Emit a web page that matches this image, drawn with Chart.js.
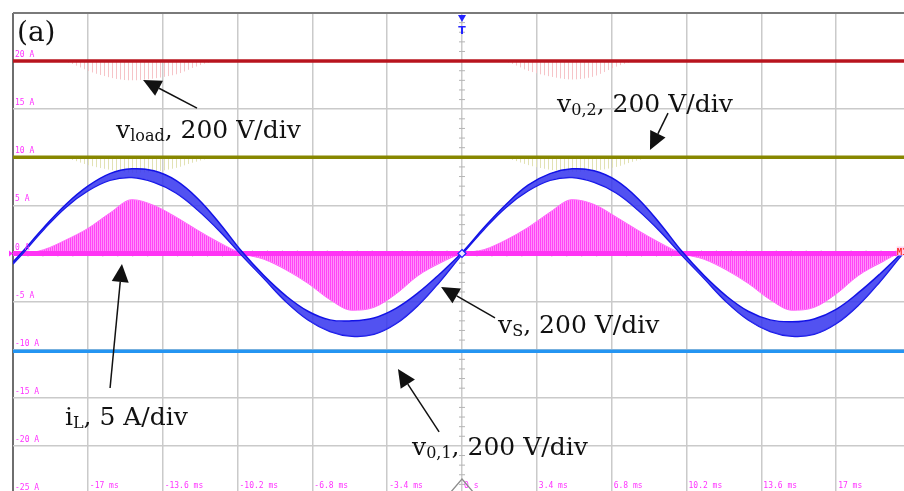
<!DOCTYPE html>
<html>
<head>
<meta charset="utf-8">
<style>
  html, body { margin: 0; padding: 0; background: #fff; overflow: hidden; }
  #wrap { width: 904px; height: 491px; overflow: hidden; }
  canvas { display: block; }
</style>
</head>
<body>
<div id="wrap"><canvas id="scope" width="914" height="497"></canvas></div>
<script src="https://cdn.jsdelivr.net/npm/chart.js@4.4.1/dist/chart.umd.min.js"></script>
<script>
// time base (ms) and the traces (vertical unit = scope "A" grid)
const tMs = [-20.4, -20, -19, -18, -17, -16, -15, -14, -13, -12, -11, -10, -9, -8, -7, -6, -5, -4, -3, -2, -1, 0,
  1, 2, 3, 4, 5, 6, 7, 8, 9, 10, 11, 12, 13, 14, 15, 16, 17, 18, 19, 20, 20.4];

// v_s : blue band, upper and lower edge
const vsUpper = [-0.9, 0.1, 2.7, 5.1, 7.0, 8.3, 8.8, 8.6, 7.6, 5.7, 3.1, 0.2, -2.3, -4.4, -6.0, -6.9, -7.0, -6.7, -5.7, -4.1, -2.1, 0.1,
  2.7, 5.1, 7.1, 8.3, 8.8, 8.6, 7.6, 5.7, 3.1, 0.2, -2.3, -4.4, -6.0, -6.9, -7.1, -6.8, -5.8, -4.1, -2.1, 0.1, 1.1];
const vsLower = [-1.1, -0.1, 2.5, 4.8, 6.5, 7.6, 7.9, 7.4, 6.3, 4.5, 2.3, -0.2, -2.6, -5.0, -6.9, -8.1, -8.6, -8.4, -7.3, -5.4, -2.9, -0.1,
  2.5, 4.8, 6.5, 7.6, 7.9, 7.4, 6.3, 4.5, 2.3, -0.2, -2.6, -5.0, -6.9, -8.1, -8.6, -8.4, -7.3, -5.4, -2.9, -0.1, 0.9];

// i_L : envelope of the switching current (pink)
const iLEnvelope = [0, 0, 0.4, 1.4, 2.6, 4.2, 5.6, 5.0, 3.8, 2.4, 1.1, 0, -0.6, -1.7, -3.1, -4.8, -5.9, -5.6, -4.2, -2.3, -1.0, 0,
  0.4, 1.4, 2.7, 4.3, 5.6, 5.1, 3.8, 2.4, 1.1, 0, -0.6, -1.7, -3.1, -4.8, -5.9, -5.6, -4.2, -2.3, -1.0, 0, 0];
const iLZeroT = [-20.4, 19.8];
const iLZero = [0, 0];

// flat dc traces
const flatT = [-20.4, 20.4];
const vLoad = [20.0, 20.0];
const vO2 = [10.0, 10.0];
const vO1 = [-10.15, -10.15];

// faint switching ripple hanging under v_load and v_0,2
const loadRipple = [20, 20, 20, 19.9, 19.0, 18.3, 18.0, 18.2, 18.6, 19.5, 20, 20, 20, 20, 20, 20, 20, 20, 20, 20, 20, 20,
  20, 19.9, 19.0, 18.4, 18.1, 18.4, 19.4, 20, 20, 20, 20, 20, 20, 20, 20, 20, 20, 20, 20, 20, 20];
const o2Ripple = [10, 10, 10, 9.9, 9.2, 8.7, 8.4, 8.5, 8.9, 9.6, 10, 10, 10, 10, 10, 10, 10, 10, 10, 10, 10, 10,
  10, 9.9, 9.2, 8.7, 8.5, 8.6, 9.0, 9.7, 10, 10, 10, 10, 10, 10, 10, 10, 10, 10, 10, 10, 10];

// graticule
const xTicks = [-20.4, -17, -13.6, -10.2, -6.8, -3.4, 0, 3.4, 6.8, 10.2, 13.6, 17, 20.4];
const xTickLabels = ['', '-17 ms', '-13.6 ms', '-10.2 ms', '-6.8 ms', '-3.4 ms', '0 s', '3.4 ms', '6.8 ms', '10.2 ms', '13.6 ms', '17 ms', ''];
const yTicks = [-25, -20, -15, -10, -5, 0, 5, 10, 15, 20, 25];
const yTickLabels = ['-25 A', '-20 A', '-15 A', '-10 A', '-5 A', '0 A', '5 A', '10 A', '15 A', '20 A', ''];

// annotations, in (ms, A)
const notes = [
  { parts: [['v', 0], ['load', 1], [', 200 V/div', 0]], at: [-15.72, 12.0], from: [-12.04, 15.12], to: [-14.49, 18.04] },
  { parts: [['v', 0], ['0,2', 1], [', 200 V/div', 0]], at: [4.32, 14.7], from: [9.36, 14.6], to: [8.54, 10.76] },
  { parts: [['i', 0], ['L', 1], [', 5 A/div', 0]], at: [-18.04, -17.83], from: [-15.99, -13.98], to: [-15.45, -1.09] },
  { parts: [['v', 0], ['S', 1], [', 200 V/div', 0]], at: [1.64, -8.26], from: [1.5, -6.7], to: [-0.95, -3.48] },
  { parts: [['v', 0], ['0,1', 1], [', 200 V/div', 0]], at: [-2.27, -20.95], from: [-1.04, -18.55], to: [-2.91, -12.01] }
];

const canvas = document.getElementById('scope');
const ctx0 = canvas.getContext('2d');

function stripes(w, on, colOn, colOff) {
  const c = document.createElement('canvas');
  c.width = w; c.height = 4;
  const g = c.getContext('2d');
  if (colOff) { g.fillStyle = colOff; g.fillRect(0, 0, w, 4); }
  g.fillStyle = colOn; g.fillRect(0, 0, on, 4);
  return ctx0.createPattern(c, 'repeat');
}

const pts = (xs, ys) => xs.map((t, i) => ({ x: t, y: ys[i] }));

function richText(ctx, x, y, parts) {
  let cx = x;
  for (const [s, sub] of parts) {
    ctx.font = sub ? '16px "DejaVu Serif"' : '25px "DejaVu Serif"';
    ctx.fillText(s, cx, sub ? y + 3 : y);
    cx += ctx.measureText(s).width;
  }
}

function arrow(ctx, x1, y1, x2, y2) {
  const a = Math.atan2(y2 - y1, x2 - x1), L = 18, W = 8.5;
  const bx = x2 - L * Math.cos(a), by = y2 - L * Math.sin(a);
  ctx.beginPath(); ctx.moveTo(x1, y1); ctx.lineTo(bx, by); ctx.stroke();
  ctx.beginPath();
  ctx.moveTo(x2, y2);
  ctx.lineTo(bx + W * Math.sin(a), by - W * Math.cos(a));
  ctx.lineTo(bx - W * Math.sin(a), by + W * Math.cos(a));
  ctx.closePath(); ctx.fill();
}

const scopeDecor = {
  id: 'scopeDecor',
  beforeDatasetsDraw(chart) {
    const { ctx, scales: { x, y } } = chart;
    const cx = x.getPixelForValue(0), cy = y.getPixelForValue(0);
    ctx.save();
    ctx.strokeStyle = '#b5b5b5';
    ctx.lineWidth = 1;
    for (let v = -25; v <= 25; v++) {
      if (v % 5 === 0) continue;
      const py = y.getPixelForValue(v);
      ctx.beginPath(); ctx.moveTo(cx - 3, py); ctx.lineTo(cx + 3, py); ctx.stroke();
    }
    for (let k = -30; k <= 30; k++) {
      if (k % 5 === 0) continue;
      const px = x.getPixelForValue(k * 0.68);
      ctx.beginPath(); ctx.moveTo(px, cy - 3); ctx.lineTo(px, cy + 3); ctx.stroke();
    }
    ctx.restore();
  },
  afterDraw(chart) {
    const { ctx, chartArea: area, scales: { x, y } } = chart;
    ctx.save();
    // tick labels inside the graticule
    ctx.fillStyle = '#ff33ff';
    ctx.font = '8px "DejaVu Sans Mono"';
    ctx.textBaseline = 'alphabetic';
    yTicks.forEach((v, i) => ctx.fillText(yTickLabels[i], area.left + 2, y.getPixelForValue(v) - 4));
    xTicks.forEach((v, i) => ctx.fillText(xTickLabels[i], x.getPixelForValue(v) + 2, area.top + 475));

    // trigger marker
    const cx = x.getPixelForValue(0), cy = y.getPixelForValue(0);
    ctx.fillStyle = '#2222ff';
    ctx.beginPath();
    ctx.moveTo(cx - 4, area.top + 2); ctx.lineTo(cx + 4, area.top + 2); ctx.lineTo(cx, area.top + 9);
    ctx.closePath(); ctx.fill();
    ctx.font = 'bold 11px "DejaVu Sans"';
    ctx.textAlign = 'center';
    ctx.fillText('T', cx, area.top + 21);
    ctx.textAlign = 'left';

    // zero crossing diamond
    ctx.strokeStyle = '#2222ff';
    ctx.fillStyle = '#e8e8ff';
    ctx.lineWidth = 1.2;
    ctx.beginPath();
    ctx.moveTo(cx, cy - 4); ctx.lineTo(cx + 4, cy); ctx.lineTo(cx, cy + 4); ctx.lineTo(cx - 4, cy);
    ctx.closePath(); ctx.fill(); ctx.stroke();

    // bottom position marker
    ctx.strokeStyle = '#8c8c8c';
    ctx.lineWidth = 1.2;
    ctx.beginPath();
    ctx.moveTo(cx - 12, area.top + 480); ctx.lineTo(cx, area.top + 466); ctx.lineTo(cx + 12, area.top + 480);
    ctx.stroke();

    // left ground marker and M1 tag
    ctx.fillStyle = '#ff33ff';
    ctx.beginPath();
    ctx.moveTo(area.left - 4, cy - 3); ctx.lineTo(area.left, cy); ctx.lineTo(area.left - 4, cy + 3);
    ctx.closePath(); ctx.fill();
    ctx.fillStyle = '#ffd0f0';
    ctx.fillRect(x.getPixelForValue(19.75), cy - 7, 12, 9);
    ctx.fillStyle = '#ff2a2a';
    ctx.font = 'bold 9px "DejaVu Sans Mono"';
    ctx.fillText('M1', x.getPixelForValue(19.75), cy + 1);

    // annotations
    ctx.fillStyle = '#111';
    ctx.strokeStyle = '#111';
    ctx.lineWidth = 1.5;
    ctx.font = '28px "DejaVu Serif"';
    ctx.fillText('(a)', x.getPixelForValue(-20.22), y.getPixelForValue(22.09));
    for (const n of notes) {
      richText(ctx, x.getPixelForValue(n.at[0]), y.getPixelForValue(n.at[1]), n.parts);
      arrow(ctx, x.getPixelForValue(n.from[0]), y.getPixelForValue(n.from[1]),
        x.getPixelForValue(n.to[0]), y.getPixelForValue(n.to[1]));
    }
    ctx.restore();
  }
};

const flat = (data, color, order) => ({
  data, borderColor: color, borderWidth: 3.5, pointRadius: 0, fill: false, order
});

new Chart(canvas, {
  type: 'line',
  data: {
    datasets: [
      { data: pts(tMs, vsUpper), borderColor: '#1212e6', borderWidth: 1.5, pointRadius: 0,
        tension: 0.4, fill: '+1', backgroundColor: 'rgba(52,52,238,0.85)', order: 1 },
      { data: pts(tMs, vsLower), borderColor: '#1212e6', borderWidth: 1.5, pointRadius: 0,
        tension: 0.4, fill: false, order: 1 },
      { data: pts(iLZeroT, iLZero), borderColor: '#ff33f5', borderWidth: 5, pointRadius: 0, fill: false, order: 2 },
      { data: pts(tMs, iLEnvelope), borderColor: '#ff6cfa', borderWidth: 1, pointRadius: 0,
        cubicInterpolationMode: 'monotone', fill: 'origin',
        backgroundColor: stripes(2, 1, '#ff45f6', '#ff90fa'), order: 3 },
      { data: pts(tMs, loadRipple), borderWidth: 0, pointRadius: 0, cubicInterpolationMode: 'monotone',
        fill: { value: 20 }, backgroundColor: stripes(4, 1, '#f6c4c8'), order: 5 },
      { data: pts(tMs, o2Ripple), borderWidth: 0, pointRadius: 0, cubicInterpolationMode: 'monotone',
        fill: { value: 10 }, backgroundColor: stripes(4, 1, '#e2e2b4'), order: 5 },
      flat(pts(flatT, vLoad), '#b8141e', 4),
      flat(pts(flatT, vO2), '#878700', 4),
      flat(pts(flatT, vO1), '#2495f2', 4)
    ]
  },
  options: {
    responsive: false,
    devicePixelRatio: 1,
    animation: false,
    events: [],
    layout: { padding: { left: 13, top: 13, right: 3, bottom: 3 } },
    plugins: { legend: { display: false }, tooltip: { enabled: false } },
    scales: {
      x: {
        type: 'linear', min: -20.4, max: 20.4,
        afterBuildTicks: s => { s.ticks = xTicks.map(v => ({ value: v })); },
        afterFit: s => { s.height = 0; },
        ticks: { display: false },
        border: { display: false },
        grid: {
          drawTicks: false,
          color: c => (c.tick && c.tick.value === -20.4) ? '#6e6e6e' : '#cacaca',
          lineWidth: c => (c.tick && c.tick.value === -20.4) ? 2 : 1.5
        }
      },
      y: {
        type: 'linear', min: -25, max: 25,
        afterBuildTicks: s => { s.ticks = yTicks.map(v => ({ value: v })); },
        afterFit: s => { s.width = 0; },
        ticks: { display: false },
        border: { display: false },
        grid: {
          drawTicks: false,
          color: c => (c.tick && c.tick.value === 25) ? '#7a7a7a' : '#cacaca',
          lineWidth: c => (c.tick && c.tick.value === 25) ? 2 : 1.5
        }
      }
    }
  },
  plugins: [scopeDecor]
});
</script>
</body>
</html>
